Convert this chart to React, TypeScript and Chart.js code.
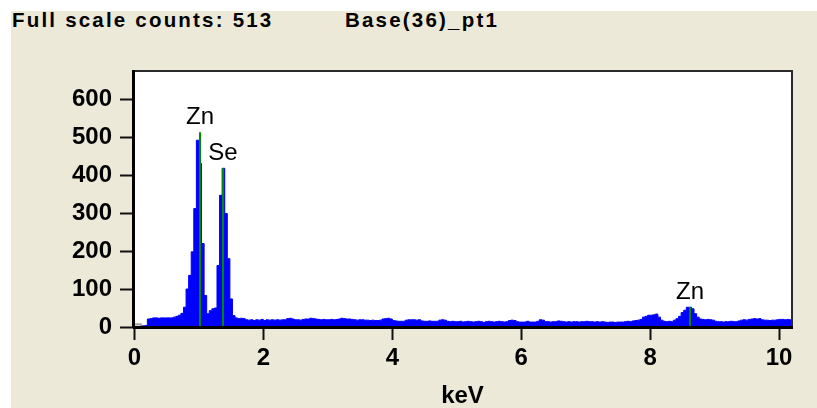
import { useEffect, useRef } from "react";
import { Chart, registerables } from "chart.js";

Chart.register(...registerables);

// ---- Data ----
const CHANNEL_KEV = 0.04;
// counts per 0.04 keV channel, one row per keV
const COUNTS_0 = [2, 2, 3, 3, 4, 21, 22, 24, 24, 23, 24, 24, 24, 24, 24, 26, 28, 31, 36, 52, 100, 136, 198, 312, 492];
const COUNTS_1 = [431, 220, 83, 35, 43, 48, 50, 162, 347, 418, 299, 180, 74, 30, 24, 22, 23, 22, 19, 18, 19, 17, 19, 18, 20];
const COUNTS_2 = [17, 19, 18, 19, 18, 19, 18, 19, 19, 22, 23, 21, 19, 19, 18, 20, 21, 21, 23, 22, 21, 20, 19, 20, 19];
const COUNTS_3 = [19, 20, 19, 20, 21, 23, 22, 21, 21, 20, 19, 18, 19, 19, 18, 18, 17, 18, 17, 17, 18, 21, 22, 23, 21];
const COUNTS_4 = [17, 16, 15, 15, 15, 18, 19, 19, 19, 18, 19, 16, 15, 15, 16, 15, 15, 15, 18, 19, 18, 15, 14, 15, 14];
const COUNTS_5 = [14, 15, 13, 14, 15, 14, 13, 14, 15, 14, 12, 14, 15, 14, 13, 14, 15, 14, 13, 14, 17, 18, 17, 14, 13];
const COUNTS_6 = [13, 13, 15, 13, 13, 13, 15, 19, 18, 14, 14, 13, 14, 14, 16, 15, 14, 13, 14, 13, 14, 14, 13, 14, 14];
const COUNTS_7 = [15, 14, 14, 13, 14, 13, 14, 13, 12, 13, 13, 12, 13, 13, 13, 14, 15, 14, 16, 17, 18, 20, 26, 28, 31];
const COUNTS_8 = [31, 32, 34, 26, 18, 15, 14, 15, 14, 18, 22, 28, 38, 44, 52, 52, 48, 35, 26, 21, 20, 19, 20, 19, 18];
const COUNTS_9 = [15, 14, 14, 13, 14, 14, 15, 14, 14, 16, 18, 19, 18, 20, 21, 22, 21, 22, 19, 18, 18, 17, 18, 18, 19];
const COUNTS_10 = [20, 20, 19, 20, 19];

const X_TICKS = [0, 2, 4, 6, 8, 10];
const Y_TICKS = [0, 100, 200, 300, 400, 500, 600];
const X_MIN = -0.023;
const X_MAX = 10.2;
const Y_MAX = 677;

const PEAK_LABELS = ["Zn", "Se", "Zn"];
const PEAK_KEV = [1.01, 1.38, 8.61];
const PEAK_HEIGHT = [513, 418, 52];

const CURSOR_KEV = 0.11;
const CURSOR_COUNTS = 9;

const TITLE_LEFT = "Full scale counts: 513";
const TITLE_RIGHT = "Base(36)_pt1";
const X_TITLE = "keV";

const FONT = "'Liberation Sans', Arial, sans-serif";

const COUNTS = [
  ...COUNTS_0, ...COUNTS_1, ...COUNTS_2, ...COUNTS_3, ...COUNTS_4,
  ...COUNTS_5, ...COUNTS_6, ...COUNTS_7, ...COUNTS_8, ...COUNTS_9, ...COUNTS_10,
];

export default function App() {
  const canvasRef = useRef<HTMLCanvasElement | null>(null);

  useEffect(() => {
    document.body.style.margin = "0";
    const canvas = canvasRef.current;
    if (!canvas) return;

    const points = COUNTS.map((c, i) => ({ x: i * CHANNEL_KEV, y: c }));
    points.push({ x: COUNTS.length * CHANNEL_KEV, y: COUNTS[COUNTS.length - 1] });

    const decorPlugin = {
      id: "decor",
      beforeDatasetsDraw(chart: any) {
        const { ctx, chartArea } = chart;
        ctx.save();
        ctx.fillStyle = "#ffffff";
        ctx.fillRect(chartArea.left, chartArea.top, chartArea.right - chartArea.left, chartArea.bottom - chartArea.top);
        ctx.restore();
      },
      afterDatasetsDraw(chart: any) {
        const { ctx, chartArea, scales } = chart;
        const xs = scales.x;
        const ys = scales.y;
        ctx.save();
        // element marker lines + labels
        for (let i = 0; i < PEAK_KEV.length; i++) {
          const px = Math.round(xs.getPixelForValue(PEAK_KEV[i]));
          const top = ys.getPixelForValue(PEAK_HEIGHT[i]);
          ctx.strokeStyle = "#008a00";
          ctx.lineWidth = 2;
          ctx.beginPath();
          ctx.moveTo(px, chartArea.bottom);
          ctx.lineTo(px, top);
          ctx.stroke();
          ctx.fillStyle = "#000";
          ctx.font = `24px ${FONT}`;
          ctx.textAlign = "center";
          ctx.textBaseline = "alphabetic";
          ctx.fillText(PEAK_LABELS[i], px, top - 8);
        }
        // cursor marker at origin
        const cx1 = chartArea.left;
        const cx2 = xs.getPixelForValue(CURSOR_KEV);
        const cy = ys.getPixelForValue(CURSOR_COUNTS);
        ctx.fillStyle = "#d8d5cc";
        ctx.fillRect(cx1, cy, cx2 - cx1, chartArea.bottom - cy);
        ctx.strokeStyle = "#7a7a7a";
        ctx.lineWidth = 1;
        ctx.strokeRect(cx1 + 0.5, cy + 0.5, cx2 - cx1 - 1, chartArea.bottom - cy - 1);
        ctx.restore();
      },
      afterDraw(chart: any) {
        const { ctx, chartArea } = chart;
        ctx.save();
        ctx.strokeStyle = "#2a2a2a";
        ctx.lineWidth = 2;
        ctx.beginPath();
        ctx.moveTo(chartArea.left, chartArea.top + 1);
        ctx.lineTo(chartArea.right, chartArea.top + 1);
        ctx.moveTo(chartArea.right, chartArea.top);
        ctx.lineTo(chartArea.right, chartArea.bottom);
        ctx.stroke();
        ctx.strokeStyle = "#000";
        ctx.lineWidth = 3;
        ctx.beginPath();
        ctx.moveTo(chartArea.left + 0.5, chartArea.top);
        ctx.lineTo(chartArea.left + 0.5, chartArea.bottom + 1);
        ctx.moveTo(chartArea.left, chartArea.bottom + 0.5);
        ctx.lineTo(chartArea.right + 1, chartArea.bottom + 0.5);
        ctx.stroke();
        ctx.restore();
      },
    };

    const tickFont = { family: FONT, size: 24, weight: "bold" as const };

    const chart = new Chart(canvas, {
      type: "line",
      data: {
        datasets: [
          {
            data: points,
            stepped: true,
            fill: "origin",
            backgroundColor: "#0000ff",
            borderColor: "#0000ff",
            borderWidth: 1,
            pointRadius: 0,
          },
        ],
      },
      options: {
        animation: false,
        responsive: false,
        events: [],
        layout: { padding: { top: 70, right: 25, left: 0, bottom: 0 } },
        plugins: {
          legend: { display: false },
          tooltip: { enabled: false },
          title: { display: false },
        },
        scales: {
          x: {
            type: "linear",
            min: X_MIN,
            max: X_MAX,
            afterFit: (s: any) => {
              s.height = 81;
            },
            afterBuildTicks: (s: any) => {
              s.ticks = X_TICKS.map((v) => ({ value: v }));
            },
            ticks: {
              callback: (v: any) => String(v),
              font: tickFont,
              color: "#000",
              padding: 4,
              maxRotation: 0,
              autoSkip: false,
            },
            grid: {
              drawOnChartArea: false,
              drawTicks: true,
              tickLength: 13,
              tickWidth: 2,
              tickColor: "#111",
            },
            border: { display: false },
            title: {
              display: true,
              text: X_TITLE,
              font: { family: FONT, size: 24, weight: "bold", lineHeight: 1 },
              color: "#000",
              padding: 0,
            },
          },
          y: {
            type: "linear",
            min: 0,
            max: Y_MAX,
            afterFit: (s: any) => {
              s.width = 133;
            },
            afterBuildTicks: (s: any) => {
              s.ticks = Y_TICKS.map((v) => ({ value: v }));
            },
            ticks: {
              callback: (v: any) => String(v),
              font: tickFont,
              color: "#000",
              padding: 8,
              autoSkip: false,
            },
            grid: {
              drawOnChartArea: false,
              drawTicks: true,
              tickLength: 13,
              tickWidth: 2,
              tickColor: "#111",
            },
            border: { display: false },
          },
        },
      },
      plugins: [decorPlugin],
    });

    return () => {
      chart.destroy();
    };
  }, []);

  const titleStyle: any = {
    position: "absolute",
    top: 8,
    fontFamily: FONT,
    fontWeight: "bold",
    fontSize: "20.5px",
    lineHeight: "23px",
    letterSpacing: "2.2px",
    color: "#000",
    whiteSpace: "nowrap",
  };

  return (
    <div style={{ position: "relative", width: 817, height: 408, background: "#ffffff", overflow: "hidden" }}>
      <div style={{ position: "absolute", left: 11, top: 11, right: 0, bottom: 0, background: "#ECE9D8" }} />
      <div style={{ ...titleStyle, left: 12 }}>{TITLE_LEFT}</div>
      <div style={{ ...titleStyle, left: 345 }}>{TITLE_RIGHT}</div>
      <canvas ref={canvasRef} width={817} height={408} style={{ position: "absolute", left: 0, top: 0 }} />
    </div>
  );
}
